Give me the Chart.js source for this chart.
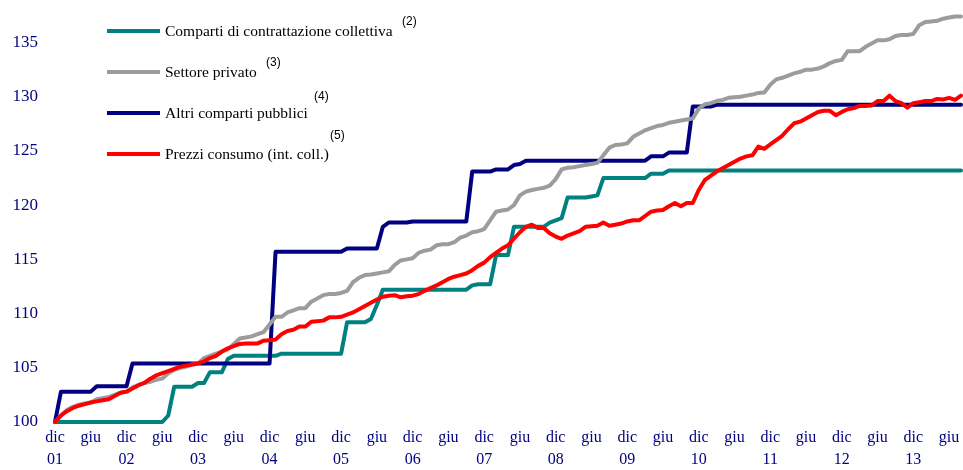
<!DOCTYPE html>
<html>
<head>
<meta charset="utf-8">
<script src="https://cdn.jsdelivr.net/npm/chart.js@4"></script>
<style>
  html, body { margin: 0; padding: 0; background: #fff; }
  #wrap { width: 963px; height: 470px; }
</style>
</head>
<body>
<div id="wrap"><canvas id="c" width="963" height="470"></canvas></div>
<script>
// monthly index, dic 2001 = 100
const monthNames = ['dic', 'gen', 'feb', 'mar', 'apr', 'mag', 'giu', 'lug', 'ago', 'set', 'ott', 'nov'];
const startYear = 2001;
const nMonths = 153; // dic 01 .. ago 14

const yTicks = [100, 105, 110, 115, 120, 125, 130, 135];

const seriesNames = [
  'Comparti di contrattazione collettiva',
  'Settore privato',
  'Altri comparti pubblici',
  'Prezzi consumo (int. coll.)'
];
const seriesNotes = ['(2)', '(3)', '(4)', '(5)'];
const seriesColors = ['#008080', '#9c9c9c', '#000080', '#ff0000'];

const contrattazione = [
  100, 100, 100, 100, 100, 100, 100, 100, 100, 100, 100, 100, 100, 100, 100, 100, 100, 100, 100, 100.6,
  103.25, 103.25, 103.25, 103.25, 103.6, 103.6, 104.6, 104.6, 104.6, 105.8,
  106.1, 106.1, 106.1, 106.1, 106.1, 106.1, 106.1, 106.1,
  106.3, 106.3, 106.3, 106.3, 106.3, 106.3, 106.3, 106.3, 106.3, 106.3, 106.3,
  109.2, 109.2, 109.2, 109.2, 109.5, 110.8,
  112.2, 112.2, 112.2, 112.2, 112.2, 112.2, 112.2, 112.2, 112.2, 112.2, 112.2, 112.2, 112.2, 112.2, 112.2,
  112.6, 112.7, 112.7, 112.7, 115.4, 115.4, 115.4,
  118.0, 118.0, 118.0, 118.0, 118.0, 118.0, 118.4, 118.6, 118.8,
  120.7, 120.7, 120.7, 120.7, 120.8, 120.9,
  122.5, 122.5, 122.5, 122.5, 122.5, 122.5, 122.5, 122.5, 122.9, 122.9, 122.9,
  123.2, 123.2, 123.2, 123.2, 123.2, 123.2, 123.2, 123.2, 123.2, 123.2,
  123.2, 123.2, 123.2, 123.2, 123.2, 123.2, 123.2, 123.2, 123.2, 123.2,
  123.2, 123.2, 123.2, 123.2, 123.2, 123.2, 123.2, 123.2, 123.2, 123.2,
  123.2, 123.2, 123.2, 123.2, 123.2, 123.2, 123.2, 123.2, 123.2, 123.2,
  123.2, 123.2, 123.2, 123.2, 123.2, 123.2, 123.2, 123.2, 123.2, 123.2
];

const privato = [
  100.0, 100.6, 101.1, 101.4, 101.6, 101.7, 101.8, 102.1, 102.2, 102.3,
  102.5, 102.7, 102.8, 103.2, 103.4, 103.6, 103.7, 103.9, 104.0, 104.5,
  104.8, 105.0, 105.1, 105.3, 105.4, 105.9, 106.1, 106.3, 106.5, 106.7,
  107.2, 107.7, 107.8, 107.9, 108.1, 108.3, 109.0, 109.7, 109.7, 110.1,
  110.3, 110.5, 110.5, 111.1, 111.4, 111.7, 111.8, 111.8, 111.9, 112.1,
  112.9, 113.3, 113.55, 113.6, 113.7, 113.8, 113.9, 114.5, 114.9, 115.0,
  115.1, 115.6, 115.8, 115.9, 116.3, 116.4, 116.4, 116.6, 117.0, 117.2,
  117.5, 117.6, 117.8, 118.6, 119.4, 119.5, 119.6, 120.0, 120.9, 121.25,
  121.4, 121.5, 121.6, 121.8, 122.4, 123.3, 123.45, 123.5, 123.6, 123.7,
  123.8, 123.9, 124.6, 125.3, 125.55, 125.6, 125.7, 126.3, 126.6, 126.9,
  127.1, 127.3, 127.4, 127.6, 127.7, 127.8, 127.9, 128.0, 128.9, 129.3,
  129.4, 129.6, 129.7, 129.9, 129.95, 130.0, 130.1, 130.2, 130.35, 130.4,
  131.1, 131.6, 131.75, 131.95, 132.15, 132.3, 132.5, 132.5, 132.6, 132.8,
  133.1, 133.3, 133.4, 134.2, 134.2, 134.2, 134.6, 134.9, 135.2, 135.2,
  135.3, 135.6, 135.7, 135.7, 135.8, 136.6, 136.9, 136.95, 137.0, 137.2,
  137.3, 137.4, 137.4
];

const altriPubblici = [
  100,
  102.8, 102.8, 102.8, 102.8, 102.8, 102.8,
  103.3, 103.3, 103.3, 103.3, 103.3, 103.3,
  105.4, 105.4, 105.4, 105.4, 105.4, 105.4, 105.4, 105.4, 105.4, 105.4, 105.4, 105.4,
  105.4, 105.4, 105.4, 105.4, 105.4, 105.4, 105.4, 105.4, 105.4, 105.4, 105.4, 105.4,
  115.7, 115.7, 115.7, 115.7, 115.7, 115.7, 115.7, 115.7, 115.7, 115.7, 115.7, 115.7,
  116.0, 116.0, 116.0, 116.0, 116.0, 116.0,
  118.0, 118.4, 118.4, 118.4, 118.4,
  118.5, 118.5, 118.5, 118.5, 118.5, 118.5, 118.5, 118.5, 118.5, 118.5,
  123.1, 123.1, 123.1, 123.1, 123.3, 123.3, 123.3, 123.7, 123.8,
  124.1, 124.1, 124.1, 124.1, 124.1, 124.1, 124.1, 124.1, 124.1, 124.1, 124.1,
  124.1, 124.1, 124.1, 124.1, 124.1, 124.1, 124.1, 124.1, 124.1, 124.1,
  124.5, 124.5, 124.5, 124.85, 124.85, 124.85, 124.85,
  129.1, 129.1, 129.1, 129.1,
  129.25, 129.25, 129.25, 129.25, 129.25, 129.25, 129.25, 129.25, 129.25, 129.25,
  129.25, 129.25, 129.25, 129.25, 129.25, 129.25, 129.25, 129.25, 129.25, 129.25,
  129.25, 129.25, 129.25, 129.25, 129.25, 129.25, 129.25, 129.25, 129.25, 129.25,
  129.25, 129.25, 129.25, 129.25, 129.25, 129.25, 129.25, 129.25, 129.25, 129.25,
  129.25, 129.25
];

const prezzi = [
  100.0, 100.6, 101.0, 101.3, 101.5, 101.65, 101.8, 101.9, 102.0, 102.1,
  102.4, 102.7, 102.8, 103.1, 103.4, 103.6, 104.0, 104.3, 104.5, 104.7,
  104.9, 105.1, 105.2, 105.3, 105.4, 105.6, 105.9, 106.1, 106.5, 106.8,
  107.0, 107.2, 107.25, 107.25, 107.25, 107.5, 107.55, 107.6, 108.1, 108.4,
  108.5, 108.8, 108.8, 109.25, 109.3, 109.35, 109.65, 109.65, 109.7, 109.9,
  110.1, 110.4, 110.7, 111.0, 111.3, 111.55, 111.65, 111.7, 111.5, 111.6,
  111.65, 111.8, 112.1, 112.35, 112.6, 112.9, 113.2, 113.4, 113.55, 113.7,
  114.0, 114.4, 114.7, 115.2, 115.6, 116.0, 116.3, 116.9, 117.5, 118.0,
  118.2, 117.9, 117.9, 117.4, 117.1, 116.9, 117.2, 117.4, 117.6, 118.0,
  118.05, 118.1, 118.4, 118.1, 118.2, 118.3, 118.5, 118.6, 118.6, 119.0,
  119.4, 119.5, 119.55, 119.9, 120.2, 119.9, 120.2, 120.2, 121.4, 122.3,
  122.7, 123.1, 123.4, 123.7, 124.0, 124.3, 124.5, 124.6, 125.4, 125.2,
  125.6, 126.0, 126.4, 127.0, 127.55, 127.7, 128.0, 128.3, 128.6, 128.7,
  128.7, 128.3, 128.6, 128.85, 128.95, 129.15, 129.15, 129.2, 129.6, 129.6,
  130.1, 129.6, 129.4, 129.0, 129.4, 129.5, 129.6, 129.6, 129.8, 129.75,
  129.9, 129.7, 130.1
];

const months = [];
for (let i = 0; i < nMonths; i++) {
  const yr = startYear + Math.floor((i + 11) / 12);
  months.push(monthNames[i % 12] + ' ' + String(yr).slice(2));
}

const serif = '"Liberation Serif", "Times New Roman", serif';

// legend drawn inside the plot, top-left, with the note numbers as superscripts
const legendPlugin = {
  id: 'noteLegend',
  afterDraw(chart) {
    const ctx = chart.ctx;
    const rows = [31, 72, 113, 154];
    const notePos = [[402, 22], [266, 63], [314, 97], [330, 136]];
    ctx.save();
    rows.forEach((y, i) => {
      ctx.strokeStyle = seriesColors[i];
      ctx.lineWidth = 4;
      ctx.beginPath();
      ctx.moveTo(107, y);
      ctx.lineTo(160, y);
      ctx.stroke();
      ctx.fillStyle = '#000';
      ctx.font = '15.5px ' + serif;
      ctx.textAlign = 'left';
      ctx.textBaseline = 'middle';
      ctx.fillText(seriesNames[i], 165, y + 1);
      ctx.font = '12px "Liberation Sans", Arial, sans-serif';
      ctx.fillText(seriesNotes[i], notePos[i][0], notePos[i][1]);
    });
    ctx.restore();
  }
};

function line(label, data, color, order) {
  return {
    label: label,
    data: data,
    borderColor: color,
    backgroundColor: color,
    borderWidth: 4,
    pointRadius: 0,
    tension: 0,
    borderJoinStyle: 'round',
    borderCapStyle: 'round',
    clip: false,
    order: order
  };
}

new Chart(document.getElementById('c'), {
  type: 'line',
  data: {
    labels: months,
    datasets: [
      line(seriesNames[0], contrattazione, seriesColors[0], 3),
      line(seriesNames[1], privato, seriesColors[1], 1),
      line(seriesNames[2], altriPubblici, seriesColors[2], 2),
      line(seriesNames[3], prezzi, seriesColors[3], 0)
    ]
  },
  options: {
    responsive: false,
    animation: false,
    devicePixelRatio: 1,
    layout: { padding: { top: 10, right: 2, left: 0, bottom: 0 } },
    plugins: {
      legend: { display: false },
      tooltip: { enabled: false }
    },
    scales: {
      x: {
        offset: false,
        grid: { display: false, drawTicks: false },
        border: { display: false },
        afterFit: (s) => { s.height = 48; s.paddingLeft = 0; s.paddingRight = 0; },
        ticks: {
          autoSkip: false,
          maxRotation: 0,
          padding: 5,
          color: '#000080',
          font: { family: serif, size: 16, lineHeight: 1.375 },
          callback: (v, i) => {
            if (i % 12 === 0) return ['dic', months[i].split(' ')[1]];
            if (i % 12 === 6) return 'giu';
            return '';
          }
        }
      },
      y: {
        min: 100,
        max: 138,
        grid: { display: false },
        border: { display: false },
        afterFit: (s) => { s.width = 55; s.paddingTop = 0; s.paddingBottom = 0; },
        afterBuildTicks: (s) => { s.ticks = yTicks.map(v => ({ value: v })); },
        ticks: {
          padding: 9,
          color: '#000080',
          font: { family: serif, size: 17 }
        }
      }
    }
  },
  plugins: [legendPlugin]
});
</script>
</body>
</html>
